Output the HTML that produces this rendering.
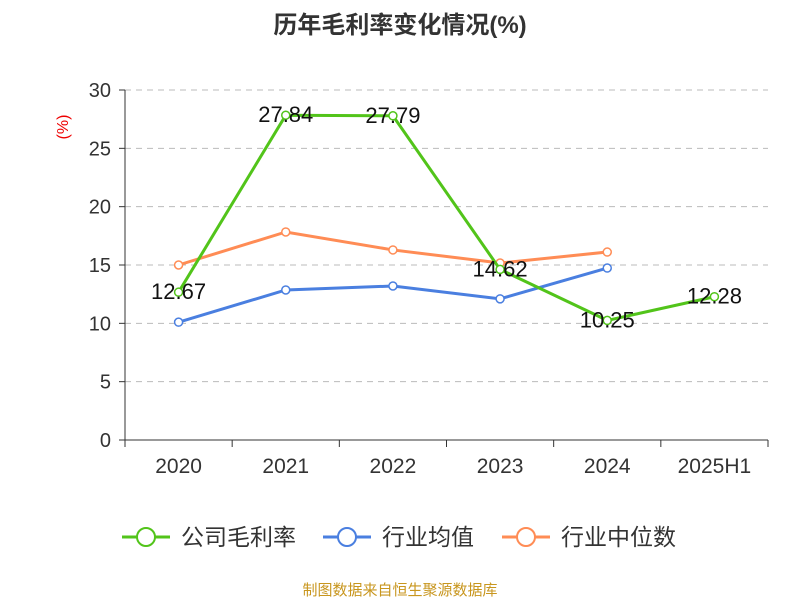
<!DOCTYPE html>
<html><head><meta charset="utf-8"><style>
body{margin:0;background:#fff;}
svg{font-family:"Liberation Sans","Noto Sans CJK SC",sans-serif;}
</style></head><body>
<svg id="chart" width="800" height="600" xmlns="http://www.w3.org/2000/svg">
<text x="400" y="33" text-anchor="middle" font-size="24" font-weight="bold" fill="#333">历年毛利率变化情况(%)</text>
<text x="68" y="127" text-anchor="middle" font-size="16" fill="#e00" transform="rotate(-90 68 127)">(%)</text>
<g id="grid"></g><g id="axes"></g><g id="series"></g>
<g>
<g><line x1="122" y1="537" x2="170" y2="537" stroke="#52c41a" stroke-width="3"/><circle cx="146" cy="537" r="9" fill="#fff" stroke="#52c41a" stroke-width="2"/><text x="181" y="545" font-size="23" fill="#333">公司毛利率</text></g>
<g><line x1="323" y1="537" x2="371" y2="537" stroke="#4a7fe0" stroke-width="3"/><circle cx="347" cy="537" r="9" fill="#fff" stroke="#4a7fe0" stroke-width="2"/><text x="382" y="545" font-size="23" fill="#333">行业均值</text></g>
<g><line x1="502" y1="537" x2="550" y2="537" stroke="#ff8c55" stroke-width="3"/><circle cx="526" cy="537" r="9" fill="#fff" stroke="#ff8c55" stroke-width="2"/><text x="561" y="545" font-size="23" fill="#333">行业中位数</text></g>
</g>
<text x="400" y="595" text-anchor="middle" font-size="15" fill="#c8961e">制图数据来自恒生聚源数据库</text>
</svg>
<script>
const categories=["2020","2021","2022","2023","2024","2025H1"];
const companyValues=[12.67,27.84,27.79,14.62,10.25,12.28];
const industryAvg=[10.1,12.86,13.2,12.1,14.74];
const industryMedian=[15.0,17.83,16.29,15.17,16.11];
const yTicks=[0,5,10,15,20,25,30];
const NS="http://www.w3.org/2000/svg";
const L=125,R=768,T=90,B=440,yMax=30;
const band=(R-L)/categories.length;
const x=i=>L+band*(i+0.5);
const y=v=>B-(v/yMax)*(B-T);
function mk(tag,attrs,parent){const e=document.createElementNS(NS,tag);for(const k in attrs)e.setAttribute(k,attrs[k]);parent.appendChild(e);return e;}
const grid=document.getElementById('grid'),axes=document.getElementById('axes'),series=document.getElementById('series');
yTicks.forEach(t=>{
  if(t>0){const g=mk('line',{x1:L,x2:R,y1:y(t),y2:y(t),stroke:'#bbb','stroke-dasharray':'6,5'},grid);
  
  }
  const tk=mk('line',{x1:L-6,x2:L,y1:y(t),y2:y(t),stroke:'#333'},axes);
  
  
  const tx=mk('text',{x:L-14,y:y(t)+7,'text-anchor':'end','font-size':20,fill:'#333'},axes);tx.textContent=t;
  
  
});
const ya=mk('line',{x1:L,x2:L,y1:T,y2:B,stroke:'#333'},axes);


const xa=mk('line',{x1:L,x2:R,y1:B,y2:B,stroke:'#333'},axes);


for(let i=0;i<=categories.length;i++){const tk=mk('line',{x1:L+band*i,x2:L+band*i,y1:B,y2:B+7,stroke:'#333'},axes);
  
  }
categories.forEach((c,i)=>{const t=mk('text',{x:x(i),y:B+33,'text-anchor':'middle','font-size':21,fill:'#333'},axes);t.textContent=c;
  
  });
function drawSeries(vals,color,name,labels){
  const pts=vals.map((v,i)=>x(i)+','+y(v)).join(' ');
  const pl=mk('polyline',{points:pts,fill:'none',stroke:color,'stroke-width':3},series);
  
  
  vals.forEach((v,i)=>{const c=mk('circle',{cx:x(i),cy:y(v),r:4,fill:'#fff',stroke:color,'stroke-width':1.5},series);
    
    
    if(labels){const t=mk('text',{x:x(i),y:y(v)+7,'text-anchor':'middle','font-size':22,fill:'#111'},series);t.textContent=v.toFixed(2);
      
      }
  });
}
drawSeries(industryMedian,'#ff8c55','industry-median',false);
drawSeries(industryAvg,'#4a7fe0','industry-avg',false);
drawSeries(companyValues,'#52c41a','company',true);
</script>
</body></html>
